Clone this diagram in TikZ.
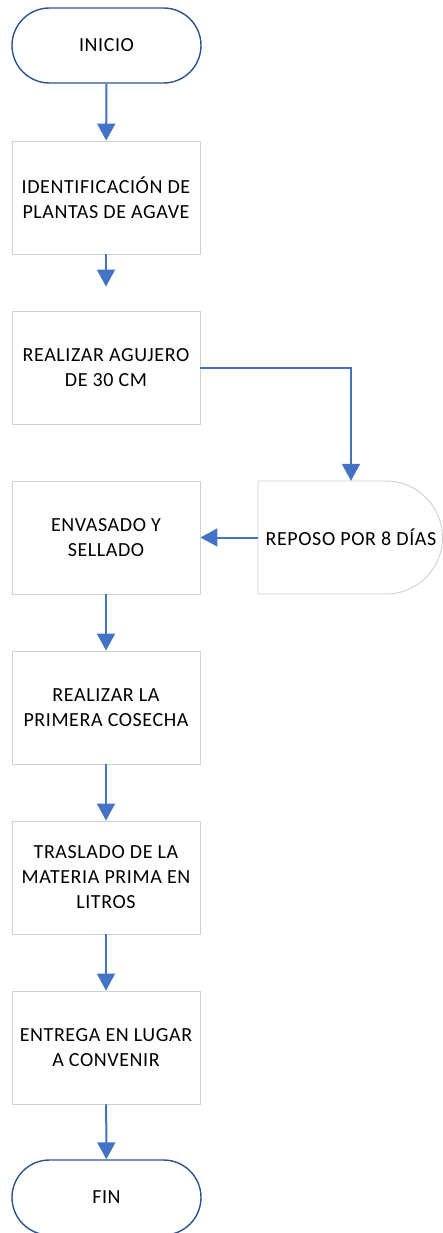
\documentclass[tikz,border=0pt]{standalone}
\usepackage{fontspec}
\setmainfont{Carlito}[LetterSpace=3]
\usetikzlibrary{arrows.meta,positioning,shapes.misc}
\definecolor{arrowblue}{HTML}{4472C4}
\definecolor{termblue}{HTML}{2F528F}
\definecolor{boxgray}{HTML}{D0D0D0}
\begin{document}
\begin{tikzpicture}[x=1pt,y=-1pt,
  every node/.style={font=\fontsize{20}{25}\selectfont, align=center, text=black},
  term/.style={rounded rectangle, draw=termblue, line width=1.4pt, minimum width=189pt, minimum height=75pt, inner sep=0pt},
  proc/.style={rectangle, draw=boxgray, line width=0.9pt, minimum width=188pt, minimum height=113pt, inner sep=2pt},
  conn/.style={draw=arrowblue, line width=2pt, -{Triangle[width=18pt,length=17pt]}, arrowblue}
]
\useasboundingbox (0,0) rectangle (443,1233);
\node[term] (inicio) at (106.5,45.5) {INICIO};
\node[proc] (b1) at (106,197.5) {IDENTIFICACIÓN DE\\PLANTAS DE AGAVE};
\node[proc] (b2) at (106,367.5) {REALIZAR AGUJERO\\DE 30 CM};
\node[proc] (b3) at (106,537.5) {ENVASADO Y\\SELLADO};
\node[proc] (b4) at (106,707.5) {REALIZAR LA\\PRIMERA COSECHA};
\node[proc] (b5) at (106,877.5) {TRASLADO DE LA\\MATERIA PRIMA EN\\LITROS};
\node[proc] (b6) at (106,1047.5) {ENTREGA EN LUGAR\\A CONVENIR};
\node[term] (fin) at (106.5,1197.5) {FIN};
% delay shape
\draw[draw=boxgray, line width=0.9pt] (258,481) -- (386,481) arc[start angle=90, end angle=-90, x radius=56.5pt, y radius=56.5pt] -- (258,594) -- cycle;
\node[minimum width=186pt, minimum height=113pt, inner sep=0pt] (d) at (351,537.5) {REPOSO POR 8 DÍAS};
% connectors
\draw[conn] (inicio) -- (b1);
\draw[conn, shorten >=24pt] (b1) -- (b2);
\draw[conn] (b2.east) -| (d.north);
\draw[conn] (d.west) -- (b3.east);
\draw[conn] (b3) -- (b4);
\draw[conn] (b4) -- (b5);
\draw[conn] (b5) -- (b6);
\draw[conn] (b6) -- (fin);
\end{tikzpicture}
\end{document}
